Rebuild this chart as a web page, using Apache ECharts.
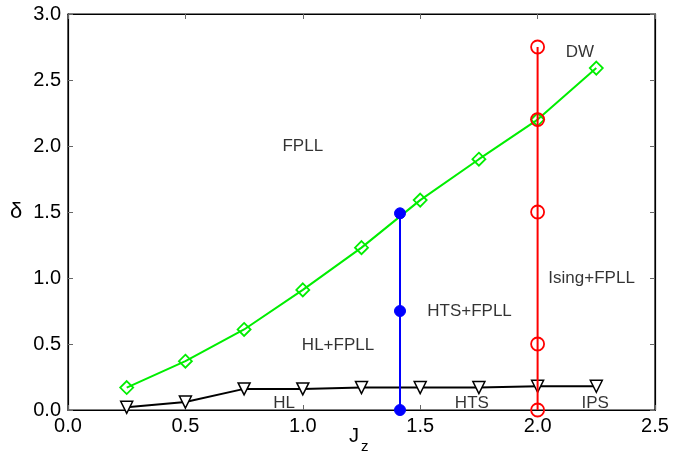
<!DOCTYPE html>
<html><head><meta charset="utf-8">
<script src="https://cdn.jsdelivr.net/npm/echarts@6/dist/echarts.min.js"></script>
<style>html,body{margin:0;padding:0;background:#fff}#c{width:682px;height:457px}</style>
</head><body><div id="c"></div>
<script>
var jz = [0.25, 0.5, 0.75, 1.0, 1.25, 1.5, 1.75, 2.0, 2.25];
var greenDelta = [0.17, 0.37, 0.61, 0.91, 1.23, 1.59, 1.90, 2.20, 2.59];
var blackDelta = [0.02, 0.06, 0.16, 0.16, 0.17, 0.17, 0.17, 0.18, 0.18];
var blueJz = 1.414;
var blueDelta = [0, 0.75, 1.49];
var redJz = 2.0;
var redDelta = [0, 0.5, 1.5, 2.2, 2.75];
var xTicks = [0.0, 0.5, 1.0, 1.5, 2.0, 2.5];
var yTicks = [0.0, 0.5, 1.0, 1.5, 2.0, 2.5, 3.0];
var phaseNames = ['FPLL', 'HL+FPLL', 'HTS+FPLL', 'Ising+FPLL', 'DW', 'HL', 'HTS', 'IPS'];
var phaseJz =    [1.0,   1.15,     1.71,      2.23,         2.18, 0.92, 1.72, 2.245];
var phaseDelta = [2.0,   0.49,     0.75,      1.0,          2.71, 0.05, 0.05, 0.05];

var font = 'Liberation Sans, Arial, sans-serif';
function pairs(xs, ys){ return xs.map(function(x,i){return [x, ys[i]];}); }
function colPairs(x, ys){ return ys.map(function(y){return [x, y];}); }

var chart = echarts.init(document.getElementById('c'));
function axisCommon(){ return {
  axisLine: {show: true, onZero: false, lineStyle: {color: '#000', width: 1.2}},
  axisTick: {show: true, inside: true, length: 5, lineStyle: {color: '#666'}},
  splitLine: {show: false}
};}
chart.setOption({
  animation: false,
  backgroundColor: '#fff',
  grid: {left: 68, right: 27, top: 14, bottom: 47, containLabel: false, outerBoundsMode: 'none',
    show: true, borderColor: '#000', borderWidth: 1.2, backgroundColor: 'transparent'},
  xAxis: [
    Object.assign({type: 'value', min: 0, max: 2.5, interval: 0.5, position: 'bottom',
      axisLabel: {fontSize: 20, fontFamily: font, color: '#000', margin: 6, formatter: function(v){return v.toFixed(1);}}
    }, axisCommon()),
    Object.assign({type: 'value', min: 0, max: 2.5, interval: 0.5, position: 'top', axisLabel: {show: false}}, axisCommon())
  ],
  yAxis: [
    Object.assign({type: 'value', min: 0, max: 3, interval: 0.5, position: 'left',
      axisLabel: {fontSize: 20, fontFamily: font, color: '#000', margin: 7, formatter: function(v){return v.toFixed(1);}}
    }, axisCommon()),
    Object.assign({type: 'value', min: 0, max: 3, interval: 0.5, position: 'right', axisLabel: {show: false}}, axisCommon())
  ],
  graphic: [
    {type: 'text', left: 10, top: 201, style: {text: 'δ', fontSize: 22, fontFamily: font, fill: '#000'}},
    {type: 'text', left: 349, top: 426, style: {text: 'J', fontSize: 20, fontFamily: font, fill: '#000'}},
    {type: 'text', left: 361, top: 439, style: {text: 'z', fontSize: 15, fontFamily: font, fill: '#000'}}
  ],
  series: [
    {type: 'line', data: pairs(jz, blackDelta), symbol: 'triangle', symbolRotate: 180, symbolSize: 12,
      lineStyle: {color: '#000', width: 2}, itemStyle: {color: '#fff', borderColor: '#000', borderWidth: 1.5}, z: 3},
    {type: 'line', data: pairs(jz, greenDelta), symbol: 'diamond', symbolSize: 13,
      lineStyle: {color: '#00ee00', width: 2}, itemStyle: {color: 'rgba(255,255,255,0)', borderColor: '#00ee00', borderWidth: 1.8}, z: 3},
    {type: 'line', data: colPairs(blueJz, blueDelta), symbol: 'circle', symbolSize: 11,
      lineStyle: {color: '#0000ff', width: 2}, itemStyle: {color: '#0000ff', borderColor: '#0000ff'}, z: 4},
    {type: 'line', data: colPairs(redJz, redDelta), symbol: 'circle', symbolSize: 13,
      lineStyle: {color: '#ff0000', width: 2}, itemStyle: {color: 'rgba(255,255,255,0)', borderColor: '#ff0000', borderWidth: 1.8}, z: 4},
    {type: 'scatter', symbol: 'circle', symbolSize: 2, silent: true, itemStyle: {color: 'rgba(0,0,0,0)'},
      data: phaseNames.map(function(n,i){return {value: [phaseJz[i], phaseDelta[i]], name: n};}),
      label: {show: true, position: 'inside', formatter: function(p){return p.name;}, fontSize: 17, fontFamily: font, color: '#000', textBorderWidth: 0},
      labelLayout: {hideOverlap: false}, z: 5}
  ]
});
</script></body></html>
